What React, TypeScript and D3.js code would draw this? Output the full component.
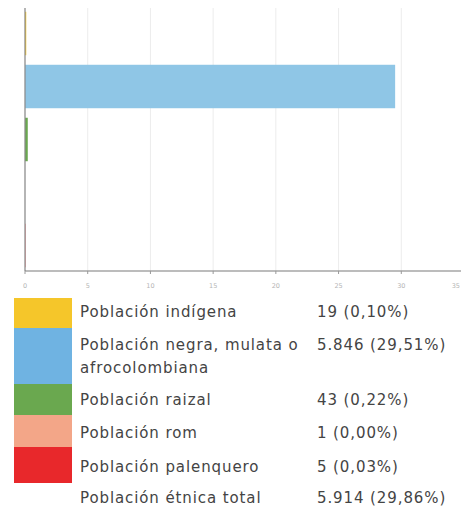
import React from "react";
import * as d3 from "d3";

const categories = [
  "Población indígena",
  "Población negra, mulata o afrocolombiana",
  "Población raizal",
  "Población rom",
  "Población palenquero",
];
const percents = [0.1, 29.51, 0.22, 0.0, 0.03];
const barColors = ["#f5c62a", "#8fc6e6", "#6aa84f", "#f3a688", "#e8282b"];
const swatchColors = ["#f5c62a", "#6fb3e2", "#6aa84f", "#f3a688", "#e8282b"];
const xTicks = [0, 5, 10, 15, 20, 25, 30, 35];

const legendLabels = [
  ["Población indígena"],
  ["Población negra, mulata o", "afrocolombiana"],
  ["Población raizal"],
  ["Población rom"],
  ["Población palenquero"],
  ["Población étnica total"],
];
const legendValues = [
  "19 (0,10%)",
  "5.846 (29,51%)",
  "43 (0,22%)",
  "1 (0,00%)",
  "5 (0,03%)",
  "5.914 (29,86%)",
];

export default function App() {
  const W = 461,
    H = 510;
  const x = d3.scaleLinear().domain([0, 35]).range([25, 464]);
  const y = d3
    .scaleBand()
    .domain(categories)
    .range([7, 272])
    .paddingInner(0.18)
    .paddingOuter(0.09);

  const swatchX = 14,
    swatchW = 58;
  const rowTops = [298, 328, 384, 415, 447, 483];
  const rowBottoms = [328, 384, 415, 447, 483, 510];
  const textY = [[312], [345, 368], [400], [433], [467], [498]];

  return (
    <svg
      width={W}
      height={H}
      style={{ position: "absolute", left: 0, top: 0, background: "#fff" }}
      fontFamily="'DejaVu Sans', sans-serif"
    >
      {/* grid */}
      {xTicks.map((t) => (
        <line
          key={"g" + t}
          x1={x(t)}
          x2={x(t)}
          y1={8}
          y2={271}
          stroke="#ececec"
          strokeWidth={1}
        />
      ))}
      {/* bars */}
      {categories.map((c, i) => (
        <rect
          key={c}
          x={x(0)}
          y={y(c)}
          width={Math.max(0, x(percents[i]) - x(0))}
          height={y.bandwidth()}
          fill={barColors[i]}
        />
      ))}
      {/* axes */}
      <line x1={x(0)} x2={x(0)} y1={8} y2={271} stroke="#8a8a8a" strokeWidth={1.2} />
      <line x1={x(0)} x2={W} y1={271} y2={271} stroke="#7a7a7a" strokeWidth={1.2} />
      {xTicks.map((t) => (
        <g key={"t" + t}>
          <line x1={x(t)} x2={x(t)} y1={271} y2={274} stroke="#999" />
          <text
            x={Math.min(x(t), W - 1)}
            y={288}
            fontSize={6.5}
            fill="#b5b5b5"
            textAnchor={x(t) > W - 4 ? "end" : "middle"}
          >
            {t}
          </text>
        </g>
      ))}
      {/* legend */}
      {swatchColors.map((col, i) => (
        <rect
          key={"s" + i}
          x={swatchX}
          y={rowTops[i]}
          width={swatchW}
          height={rowBottoms[i] - rowTops[i]}
          fill={col}
        />
      ))}
      {legendLabels.map((lines, i) => (
        <g key={"l" + i}>
          {lines.map((ln, j) => (
            <text
              key={j}
              x={80}
              y={textY[i][j]}
              dy="0.35em"
              fontSize={15}
              letterSpacing={0.9}
              fill="#444"
            >
              {ln}
            </text>
          ))}
          <text
            x={317}
            y={textY[i][0]}
            dy="0.35em"
            fontSize={15}
            letterSpacing={0.9}
            fill="#444"
          >
            {legendValues[i]}
          </text>
        </g>
      ))}
    </svg>
  );
}
